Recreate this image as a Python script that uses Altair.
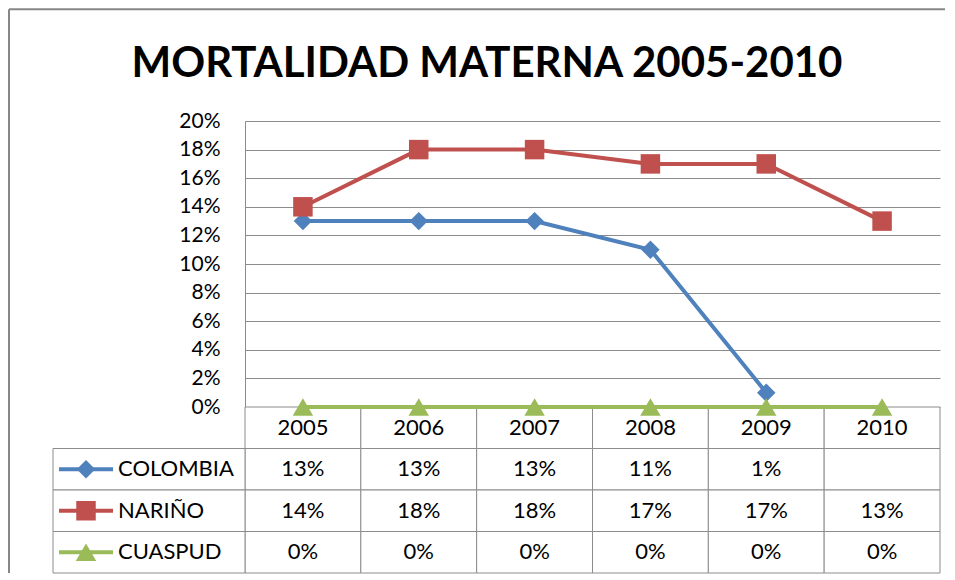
import altair as alt
import pandas as pd

# ---- data ----
years = ["2005", "2006", "2007", "2008", "2009", "2010"]
series = ["COLOMBIA", "NARIÑO", "CUASPUD"]
colombia = [0.13, 0.13, 0.13, 0.11, 0.01, None]
narino = [0.14, 0.18, 0.18, 0.17, 0.17, 0.13]
cuaspud = [0.0, 0.0, 0.0, 0.0, 0.0, 0.0]
y_ticks = [0.0, 0.02, 0.04, 0.06, 0.08, 0.10, 0.12, 0.14, 0.16, 0.18, 0.20]
title_text = "MORTALIDAD MATERNA 2005-2010"

colors = ["#4F81BD", "#C0504D", "#9BBB59"]
shapes = ["diamond", "square", "triangle-up"]
marker_sizes = [340, 420, 450]

FONT = "Lato"
GRID = "#8c8c8c"
FRAME = "#878787"
W, H = 695, 286          # plot area
TABLE_BOTTOM = 452       # table spans from H down to this (pixels within the plot frame)

# ---- tables built from the arrays ----
long_rows = []
for s, vals in zip(series, [colombia, narino, cuaspud]):
    for y, v in zip(years, vals):
        long_rows.append({"series": s, "year": y, "value": v})
df = pd.DataFrame(long_rows)

row_keys = ["header"] + series
cells = []
for y in years:
    cells.append({"row": "header", "year": y, "text": y})
for s, vals in zip(series, [colombia, narino, cuaspud]):
    for y, v in zip(years, vals):
        cells.append({"row": s, "year": y, "text": "" if v is None else f"{round(v * 100)}%"})
cells_df = pd.DataFrame(cells)
legend_df = pd.DataFrame({"row": series, "series": series})
one = pd.DataFrame({"k": [0]})

color = alt.Color("series:N", scale=alt.Scale(domain=series, range=colors), legend=None)
shape = alt.Shape("series:N", scale=alt.Scale(domain=series, range=shapes), legend=None)
size = alt.Size("series:O", scale=alt.Scale(domain=series, range=marker_sizes), legend=None)

# ---- decoration: frame and title ----
frame_top = alt.Chart(one).mark_rule(color=FRAME, strokeWidth=2).encode(
    x=alt.value(-236), x2=alt.value(700), y=alt.value(-111.7)
)
frame_left = alt.Chart(one).mark_rule(color=FRAME, strokeWidth=2).encode(
    x=alt.value(-236), y=alt.value(-111.7), y2=alt.value(TABLE_BOTTOM)
)
title_mark = alt.Chart(one).mark_text(
    text=title_text, font=FONT, fontSize=42, fontWeight="bold",
    align="center", baseline="alphabetic", color="#000000",
).encode(x=alt.value(242), y=alt.value(-43.7))

# ---- data table (below the plot area) ----
tab_x_scale = alt.Scale(domain=years, paddingInner=0, paddingOuter=0, range=[0, W])
tab_y_scale = alt.Scale(domain=row_keys, paddingInner=0, paddingOuter=0, range=[H, TABLE_BOTTOM])
x_tab = alt.X("year:O", scale=tab_x_scale, axis=None)
y_tab = alt.Y("row:N", scale=tab_y_scale, axis=None)
x_mid = alt.X("year:O", scale=tab_x_scale, axis=None, bandPosition=0.5)
y_mid = alt.Y("row:N", scale=tab_y_scale, axis=None, bandPosition=0.5)

cell_rects = alt.Chart(cells_df).mark_rect(fill="white", stroke=GRID, strokeWidth=1).encode(
    x=x_tab, y=y_tab
)
cell_text = alt.Chart(cells_df).mark_text(
    font=FONT, fontSize=22, color="#000000", align="center", baseline="middle"
).encode(x=x_mid, y=y_mid, text="text:N")
leg_rects = alt.Chart(legend_df).mark_rect(fill="white", stroke=GRID, strokeWidth=1).encode(
    x=alt.value(-192), x2=alt.value(0), y=y_tab
)
leg_lines = alt.Chart(legend_df).mark_rule(strokeWidth=4).encode(
    x=alt.value(-186), x2=alt.value(-132), y=y_mid, color=color
)
leg_points = alt.Chart(legend_df).mark_point(filled=True, opacity=1).encode(
    x=alt.value(-159), y=y_mid, color=color, shape=shape, size=size
)
leg_text = alt.Chart(legend_df).mark_text(
    font=FONT, fontSize=22, color="#000000", align="left", baseline="middle"
).encode(x=alt.value(-127), y=y_mid, text="row:N")

table = alt.layer(cell_rects, leg_rects, cell_text, leg_lines, leg_points, leg_text)

# ---- line plot ----
x_top = alt.X("year:O", scale=alt.Scale(domain=years, type="point", padding=0.5), axis=None)
y_top = alt.Y(
    "value:Q",
    scale=alt.Scale(domain=[0, 0.2], nice=False),
    axis=alt.Axis(
        values=y_ticks, format=".0%", grid=True, gridColor=GRID, gridWidth=1,
        domain=True, domainColor=GRID, domainWidth=1, ticks=False,
        labelPadding=25, labelFontSize=21, labelFont=FONT, labelColor="#000000",
        title=None,
    ),
)
base_top = alt.Chart(df)
lines = base_top.mark_line(strokeWidth=4).encode(x=x_top, y=y_top, color=color)
points = base_top.mark_point(filled=True, opacity=1).encode(
    x=x_top, y=y_top, color=color, shape=shape, size=size
)
plot = alt.layer(lines, points)

chart = (
    alt.layer(frame_top, frame_left, title_mark, table, plot)
    .resolve_scale(x="independent", y="independent")
    .properties(width=W, height=H, padding=0, background="white")
    .configure_view(strokeWidth=0)
)

chart.save("out.html", embed_options={"renderer": "svg", "actions": False})
